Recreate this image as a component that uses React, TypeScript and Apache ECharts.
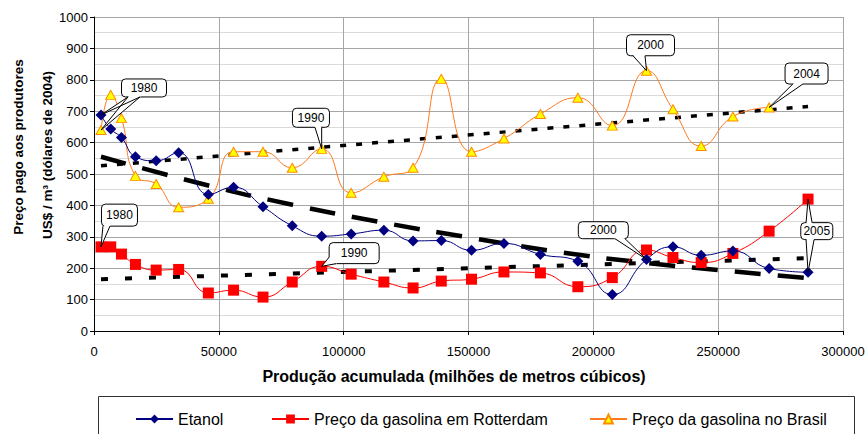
import React, { useEffect, useRef } from "react";
import * as echarts from "echarts";

// ---- data ----
const anos = [1980, 1981, 1982, 1983, 1984, 1985, 1986, 1987, 1988, 1989, 1990, 1991, 1992, 1993, 1994, 1995, 1996, 1997, 1998, 1999, 2000, 2001, 2002, 2003, 2004, 2005];
const producaoAcumulada = [2800, 6700, 11000, 16600, 24900, 33900, 45800, 55900, 67700, 79400, 91200, 103000, 116100, 127800, 139100, 151200, 164200, 178800, 193800, 207600, 221300, 231900, 243200, 255900, 270400, 286000];
const etanol = [688, 643, 616, 555, 542, 568, 435, 458, 396, 335, 302, 309, 321, 287, 288, 257, 279, 244, 222, 116, 228, 268, 241, 255, 199, 187];
const gasolinaRotterdam = [268, 268, 245, 212, 194, 196, 121, 130, 108, 156, 206, 181, 156, 137, 159, 165, 188, 185, 141, 170, 258, 234, 218, 247, 318, 420];
const gasolinaBrasil = [640, 752, 678, 494, 468, 394, 421, 571, 571, 520, 580, 440, 491, 520, 803, 571, 613, 691, 743, 654, 829, 706, 589, 683, 712];

// trend lines
const tendenciaEtanol = [[2800, 555], [45000, 465], [79000, 403], [114000, 348], [150000, 298], [186000, 252], [221000, 217], [256000, 190], [286000, 168]];
const tendenciaRotterdam = [[2800, 165], [286000, 232]];
const tendenciaBrasil = [[2800, 526], [286000, 715]];

const NAME_E = "Etanol";
const NAME_R = "Preço da gasolina em Rotterdam";
const NAME_B = "Preço da gasolina no Brasil";

// callout annotations: box centre in data coords, pointers to a series point
const callouts = [
  { ano: 1980, box: [20030, 774], w: 45, h: 18, pointers: [{ s: "E", b: [-16, 9, -4, 9] }, { s: "B", b: [-16, 9, -4, 9] }] },
  { ano: 1980, box: [10200, 369], w: 36, h: 22, pointers: [{ s: "R", b: [-16.5, 11, -9.5, 11] }] },
  { ano: 1990, box: [86900, 679], w: 37, h: 19, pointers: [{ s: "B", b: [4, 9.5, 10.7, 9.5] }] },
  { ano: 1990, box: [104200, 248], w: 50, h: 21, pointers: [{ s: "R", b: [-25, 4, -18, 10.5] }] },
  { ano: 2000, box: [222900, 910], w: 48, h: 21, pointers: [{ s: "B", b: [-17.5, 10.5, -5.5, 10.5] }] },
  { ano: 2004, box: [285400, 820], w: 43, h: 21, pointers: [{ s: "B", b: [-13.7, 10.5, -3.7, 10.5] }] },
  { ano: 2000, box: [204000, 321], w: 50, h: 17, pointers: [{ s: "E", b: [11.7, 8.5, 21.7, 8.5] }] },
  { ano: 2005, box: [289500, 318], w: 32, h: 17, pointers: [{ s: "R", b: [-10.7, -8.5, -4.7, -8.5] }, { s: "E", b: [-10.7, 8.5, -2.7, 8.5] }] },
];

const FONT = '"Liberation Sans", Arial, Helvetica, sans-serif';

export default function App() {
  const ref = useRef<HTMLDivElement>(null);
  useEffect(() => {
    if (!ref.current) return;
    const chart = echarts.init(ref.current, undefined, { renderer: "svg" });
    const ser = (vals: number[]) => vals.map((v, i) => [producaoAcumulada[i], v]);
    const trendStyle = (width: number, dash: number[]) => ({
      type: "line",
      symbol: "none",
      silent: true,
      lineStyle: { color: "#000", width, type: dash },
      z: 2,
    });
    const legendBase = {
      top: 411,
      padding: 0,
      itemWidth: 37,
      itemHeight: 11,
      itemGap: 0,
      textStyle: { fontSize: 16, color: "#000", fontFamily: FONT },
    };
    const plain = (v: number) => String(v);
    chart.setOption({
      animation: false,
      backgroundColor: "#fff",
      textStyle: { fontFamily: FONT },
      grid: { left: 94, right: 25, top: 17, bottom: 103 },
      xAxis: {
        type: "value",
        min: 0,
        max: 300000,
        interval: 50000,
        axisLine: { show: true, onZero: false, lineStyle: { color: "#000", width: 1 } },
        axisTick: { show: true, length: 4, lineStyle: { color: "#000" } },
        axisLabel: { color: "#000", fontSize: 13, margin: 14, showMinLabel: true, showMaxLabel: true, formatter: plain },
        splitLine: { show: true, lineStyle: { color: "#a6a6a6" } },
      },
      yAxis: {
        type: "value",
        min: 0,
        max: 1000,
        interval: 100,
        axisLine: { show: true, onZero: false, lineStyle: { color: "#000", width: 1 } },
        axisTick: { show: true, length: 4, lineStyle: { color: "#000" } },
        axisLabel: { color: "#000", fontSize: 13, margin: 6, formatter: plain },
        splitLine: { show: true, lineStyle: { color: "#a6a6a6" } },
        minorTick: { show: false, splitNumber: 2 },
        minorSplitLine: { show: true, lineStyle: { color: "#dadada" } },
      },
      legend: [
        { ...legendBase, left: 135, data: [NAME_E] },
        { ...legendBase, left: 271, data: [NAME_R] },
        { ...legendBase, left: 589, data: [NAME_B] },
      ],
      series: [
        { ...trendStyle(3.5, [6, 10]), name: "tb", data: tendenciaBrasil },
        { ...trendStyle(4, [7, 17]), name: "tr", data: tendenciaRotterdam },
        { ...trendStyle(4.5, [26, 17]), name: "te", data: tendenciaEtanol, smooth: 0.5 },
        {
          name: NAME_B,
          type: "line",
          smooth: 0.5,
          data: ser(gasolinaBrasil),
          symbol: "triangle",
          symbolSize: [10, 9],
          lineStyle: { color: "#ff7a1f", width: 1 },
          itemStyle: { color: "#ffff00", borderColor: "#ff8c00", borderWidth: 1 },
          z: 3,
        },
        {
          name: NAME_R,
          type: "line",
          smooth: 0.5,
          data: ser(gasolinaRotterdam),
          symbol: "rect",
          symbolSize: 11,
          lineStyle: { color: "#ff0000", width: 1 },
          itemStyle: { color: "#ff0000" },
          z: 3,
        },
        {
          name: NAME_E,
          type: "line",
          smooth: 0.5,
          data: ser(etanol),
          symbol: "diamond",
          symbolSize: 11,
          lineStyle: { color: "#000080", width: 1 },
          itemStyle: { color: "#000080" },
          z: 3,
        },
      ],
    });

    // graphics: titles, legend box and callouts
    const g: any[] = [];
    g.push({
      type: "rect",
      shape: { x: 98.5, y: 396.5, width: 756, height: 80 },
      style: { fill: "none", stroke: "#333", lineWidth: 1 },
      z: 1,
    });
    const boldText = (text: string, x: number, y: number, rot: number, size: number) => ({
      type: "text",
      x,
      y,
      rotation: rot,
      style: {
        text,
        font: `bold ${size}px ${FONT}`,
        fill: "#000",
        align: "center",
        verticalAlign: "middle",
        textAlign: "center",
        textVerticalAlign: "middle",
      },
    });
    g.push(boldText("Preço pago aos produtores", 18, 147, Math.PI / 2, 13.5));
    g.push(boldText("US$ / m³ (dólares de 2004)", 47, 155, Math.PI / 2, 13.5));
    g.push(boldText("Produção acumulada (milhões de metros cúbicos)", 454, 376, 0, 16));

    const seriesVals: Record<string, number[]> = { E: etanol, R: gasolinaRotterdam, B: gasolinaBrasil };
    callouts.forEach((c) => {
      const [cx, cy] = chart.convertToPixel({ gridIndex: 0 }, c.box) as number[];
      const x0 = cx - c.w / 2;
      const y0 = cy - c.h / 2;
      g.push({
        type: "rect",
        shape: { x: x0, y: y0, width: c.w, height: c.h, r: 4 },
        style: { fill: "#fff", stroke: "#000", lineWidth: 1 },
        z: 100,
      });
      c.pointers.forEach((p) => {
        const idx = anos.indexOf(c.ano);
        const t = chart.convertToPixel({ gridIndex: 0 }, [producaoAcumulada[idx], seriesVals[p.s][idx]]) as number[];
        const b1 = [cx + p.b[0], cy + p.b[1]];
        const b2 = [cx + p.b[2], cy + p.b[3]];
        const inward = (b: number[]) => {
          const dx = cx - b[0];
          const dy = cy - b[1];
          const l = Math.hypot(dx, dy) || 1;
          return [b[0] + (dx / l) * 2, b[1] + (dy / l) * 2];
        };
        g.push({
          type: "polygon",
          shape: { points: [b1, t, b2, inward(b2), inward(b1)] },
          style: { fill: "#fff", stroke: "none" },
          z: 101,
        });
        g.push({
          type: "polyline",
          shape: { points: [b1, t, b2] },
          style: { stroke: "#000", lineWidth: 1, fill: "none" },
          z: 102,
        });
      });
      g.push({
        type: "text",
        x: cx,
        y: cy,
        style: {
          text: String(c.ano),
          font: `12px ${FONT}`,
          fill: "#000",
          align: "center",
          verticalAlign: "middle",
          textAlign: "center",
          textVerticalAlign: "middle",
        },
        z: 103,
      });
    });
    chart.setOption({ graphic: g });

    return () => chart.dispose();
  }, []);
  return (
    <div
      ref={ref}
      style={{ position: "absolute", left: 0, top: 0, width: 868, height: 434, background: "#fff" }}
    />
  );
}
